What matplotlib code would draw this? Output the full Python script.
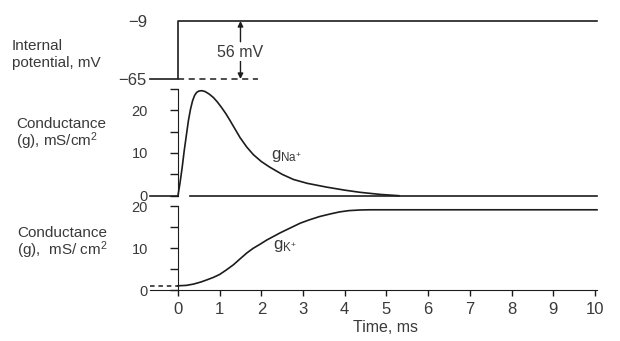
import matplotlib
matplotlib.use("Agg")
import matplotlib.pyplot as plt

plt.rcParams['font.family'] = ['Liberation Sans', 'DejaVu Sans']
plt.rcParams['mathtext.fontset'] = 'custom'
plt.rcParams['mathtext.rm'] = 'Liberation Sans'
plt.rcParams['mathtext.it'] = 'Liberation Sans:italic'

INK = '#1c1c1c'
TXT = '#3a3a3a'

# voltage clamp step (mV)
v_times = [-0.67, 0, 0, 10.05]
v_values = [-65, -65, -9, -9]
v_ticks = [-65, -9]
v_ticklabels = ['\u221265', '\u22129']

# sodium conductance (mS/cm2)
na_times = [0, 0.05, 0.1, 0.15, 0.2, 0.25, 0.3, 0.35, 0.4, 0.45, 0.5, 0.57,
            0.65, 0.75, 0.85, 0.95, 1.05, 1.15, 1.25, 1.37, 1.49, 1.65, 1.81,
            2.0, 2.2, 2.5, 2.77, 3.1, 3.57, 4.0, 4.36, 4.85, 5.3]
na_values = [0, 3, 6.5, 10.5, 14, 17.5, 20.2, 22.2, 23.5, 24.2, 24.5, 24.6,
             24.4, 23.8, 23.0, 21.9, 20.6, 19.2, 17.6, 15.6, 13.6, 11.4, 9.6,
             8.0, 6.7, 5.0, 3.8, 2.9, 2.0, 1.3, 0.8, 0.3, 0]

# potassium conductance (mS/cm2)
k_rest = 1.0
k_times = [0, 0.2, 0.37, 0.55, 0.69, 0.85, 1.0, 1.15, 1.33, 1.5, 1.65, 1.8,
           1.97, 2.13, 2.3, 2.45, 2.7, 2.93, 3.15, 3.4, 3.65, 3.88, 4.1, 4.36,
           4.6, 4.8, 5.2, 10.05]
k_values = [1.0, 1.1, 1.4, 1.9, 2.4, 3.0, 3.7, 4.7, 6.0, 7.5, 8.8, 9.9,
            10.9, 11.9, 12.8, 13.6, 14.8, 15.9, 16.7, 17.5, 18.1, 18.6, 18.9,
            19.05, 19.1, 19.1, 19.1, 19.1]

time_ticks = list(range(0, 11))
g_major = [0, 10, 20]

XMIN, XMAX = -0.67, 10.05
W, H = 620, 341


def box(top, bottom):
    # pixel rows -> figure fraction rect
    return [150 / W, 1 - bottom / H, 447 / W, (bottom - top) / H]


fig = plt.figure(figsize=(6.2, 3.41), dpi=100)
fig.patch.set_facecolor('white')

# --- internal potential ---
ax_v = fig.add_axes(box(15, 85))
ax_v.plot(v_times, v_values, color=INK, lw=1.2, clip_on=False)
ax_v.plot([0, 1.92], [-65, -65], color=INK, lw=1.1, dashes=(4, 3))
ax_v.annotate('', xy=(1.5, -9), xytext=(1.5, -29),
              arrowprops=dict(arrowstyle='-|>', color=INK, lw=1,
                              mutation_scale=8, shrinkA=0, shrinkB=0))
ax_v.annotate('', xy=(1.5, -65), xytext=(1.5, -47),
              arrowprops=dict(arrowstyle='-|>', color=INK, lw=1,
                              mutation_scale=8, shrinkA=0, shrinkB=0))
ax_v.text(1.5, -39.4, '56 mV', ha='center', va='center', fontsize=11.5,
          color=TXT, bbox=dict(facecolor='white', edgecolor='none', pad=0.5))
ax_v.set_xlim(XMIN, XMAX)
ax_v.set_ylim(-70.79, -3.21)
for s in ax_v.spines.values():
    s.set_visible(False)
ax_v.set_xticks([])
ax_v.set_yticks(v_ticks)
ax_v.set_yticklabels(v_ticklabels)
ax_v.tick_params(axis='y', length=0, pad=2.2, labelsize=12, labelcolor=TXT)

# --- sodium conductance ---
ax_na = fig.add_axes(box(85, 200))
ax_na.plot(na_times, na_values, color=INK, lw=1.2, clip_on=False)
ax_na.plot([XMIN, 0], [0, 0], color=INK, lw=1.2, clip_on=False)
ax_na.plot([0.29, XMAX], [0, 0], color=INK, lw=1.2, clip_on=False)
ax_na.text(2.23, 8.6, r'g$_{\mathrm{Na}^{+}}$', fontsize=12, color=TXT,
           va='baseline')
ax_na.set_xlim(XMIN, XMAX)
ax_na.set_ylim(-1.007, 25.925)
for k in ['top', 'right', 'bottom']:
    ax_na.spines[k].set_visible(False)
ax_na.spines['left'].set_position(('data', 0))
ax_na.spines['left'].set_bounds(0, 25)
ax_na.spines['left'].set_color(INK)
ax_na.set_xticks([])
ax_na.set_yticks(g_major)
ax_na.set_yticks([5, 15, 25], minor=True)
ax_na.tick_params(axis='y', which='both', direction='out', length=5.5,
                  width=1, color=INK, pad=16, labelsize=10.5, labelcolor=TXT)

# --- potassium conductance ---
ax_k = fig.add_axes(box(200, 290))
ax_k.plot(k_times, k_values, color=INK, lw=1.2, clip_on=False)
ax_k.plot([XMIN, 0], [k_rest, k_rest], color=INK, lw=1.1, dashes=(3, 2.5),
          clip_on=False)
ax_k.text(2.28, 9.8, r'g$_{\mathrm{K}^{+}}$', fontsize=12, color=TXT,
          va='baseline')
ax_k.set_xlim(XMIN, XMAX)
ax_k.set_ylim(0, 21.43)
for k in ['top', 'right']:
    ax_k.spines[k].set_visible(False)
ax_k.spines['left'].set_position(('data', 0))
ax_k.spines['left'].set_bounds(0, 20)
ax_k.spines['left'].set_color(INK)
ax_k.spines['bottom'].set_color(INK)
ax_k.set_yticks(g_major)
ax_k.set_yticks([5, 15], minor=True)
ax_k.tick_params(axis='y', which='both', direction='out', length=5.5,
                 width=1, color=INK, pad=16, labelsize=10.5, labelcolor=TXT)
ax_k.set_xticks(time_ticks)
ax_k.tick_params(axis='x', direction='out', length=4, width=1, color=INK,
                 pad=4.5, labelsize=12, labelcolor=TXT)

# --- left side labels (y = baseline of the last line) ---
def label(x, y, s, ls):
    fig.text(x / W, 1 - y / H, s, fontsize=11, color=TXT, va='baseline',
             linespacing=ls)


label(12, 67, 'Internal\npotential, mV', 1.3)
label(16, 146, 'Conductance\n' + r'(g), mS/cm$^2$', 0.95)
label(17, 255, 'Conductance\n' + r'(g),  mS/ cm$^2$', 0.95)

fig.text(385.5 / W, 1 - 332 / H, 'Time, ms', fontsize=11.5, color=TXT,
         ha='center', va='baseline')

fig.savefig('out.png', dpi=100)
